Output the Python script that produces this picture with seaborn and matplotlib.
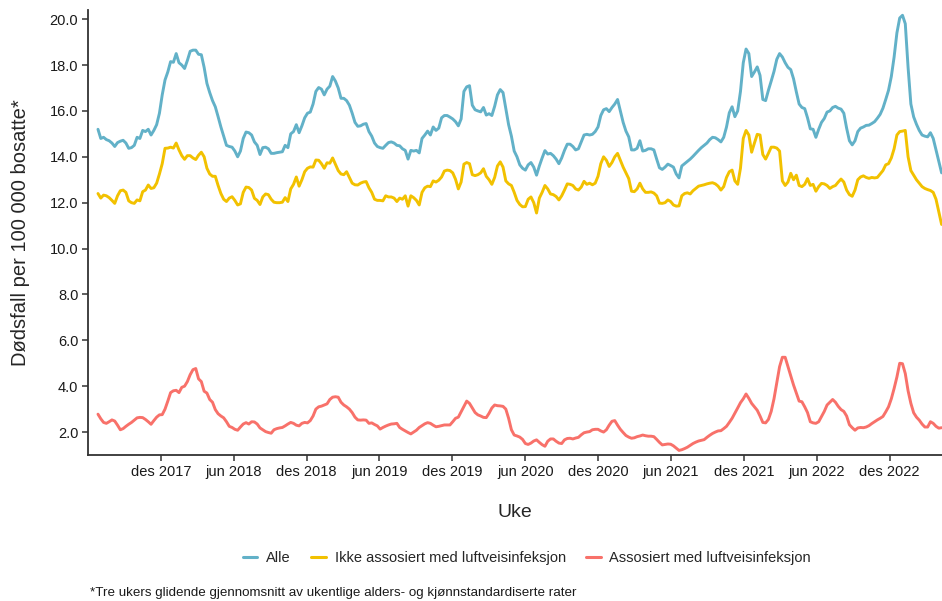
import pandas as pd
import seaborn as sns
import matplotlib.pyplot as plt
from matplotlib.ticker import FormatStrFormatter
from matplotlib.lines import Line2D

# ukentlige data, tre ukers glidende snitt, fra uke 26 2017
startdato = "2017-06-26"

alle = [
    15.2, 14.8, 14.85, 14.75, 14.7, 14.6, 14.45, 14.62, 14.68, 14.72,
    14.6, 14.37, 14.4, 14.5, 14.85, 14.8, 15.15, 15.1, 15.2, 14.95,
    15.15, 15.4, 15.9, 16.7, 17.35, 17.7, 18.15, 18.12, 18.5, 18.1,
    18.0, 17.85, 18.2, 18.6, 18.65, 18.65, 18.47, 18.45, 17.9, 17.2,
    16.8, 16.45, 16.18, 15.75, 15.3, 14.9, 14.5, 14.45, 14.42, 14.25,
    14.0, 14.25, 14.8, 15.08, 15.05, 14.95, 14.65, 14.5, 14.1, 14.4,
    14.42, 14.35, 14.15, 14.15, 14.18, 14.2, 14.22, 14.5, 14.4, 15.0,
    15.1, 15.4, 15.05, 15.35, 15.7, 15.9, 15.95, 16.3, 16.85, 17.02,
    16.95, 16.7, 16.95, 17.08, 17.5, 17.3, 17.0, 16.55, 16.55, 16.45,
    16.25, 15.9, 15.5, 15.33, 15.35, 15.42, 15.45, 15.1, 14.9, 14.6,
    14.45, 14.4, 14.37, 14.5, 14.62, 14.65, 14.6, 14.5, 14.48, 14.35,
    14.28, 13.9, 14.28, 14.25, 14.28, 14.17, 14.8, 14.95, 15.12, 14.95,
    15.3, 15.15, 15.25, 15.7, 15.8, 15.8, 15.73, 15.65, 15.53, 15.35,
    15.65, 16.85, 17.05, 17.1, 16.25, 16.05, 16.0, 15.96, 16.15, 15.82,
    15.88, 15.8, 16.2, 16.7, 16.93, 16.8, 16.1, 15.4, 14.9, 14.25,
    14.0, 13.65, 13.5, 13.42, 13.65, 13.75, 13.55, 13.2, 13.6, 13.95,
    14.27, 14.12, 14.15, 14.05, 13.9, 13.7, 13.95, 14.28, 14.55, 14.55,
    14.45, 14.3, 14.35, 14.65, 14.95, 14.98, 14.95, 14.98, 15.1, 15.3,
    15.8, 16.05, 16.1, 15.97, 16.15, 16.3, 16.5, 16.0, 15.5, 15.12,
    14.87, 14.3, 14.3, 14.37, 14.7, 14.25, 14.28, 14.35, 14.35, 14.3,
    13.9, 13.52, 13.45, 13.55, 13.68, 13.62, 13.55, 13.25, 13.08, 13.6,
    13.7, 13.8, 13.9, 14.02, 14.15, 14.28, 14.4, 14.5, 14.6, 14.75,
    14.85, 14.83, 14.75, 14.65, 14.85, 15.3, 15.92, 16.18, 15.75, 16.0,
    16.85, 18.1, 18.7, 18.5, 17.5, 17.7, 17.92, 17.55, 16.5, 16.45,
    16.9, 17.3, 17.72, 18.25, 18.5, 18.35, 18.1, 17.9, 17.8, 17.4,
    16.83, 16.3, 16.15, 16.1, 15.7, 15.22, 15.2, 14.85, 15.2, 15.5,
    15.67, 15.95, 16.0, 16.15, 16.2, 16.12, 16.08, 15.9, 15.25, 14.7,
    14.52, 14.7, 15.1, 15.25, 15.3, 15.37, 15.38, 15.45, 15.53, 15.68,
    15.85, 16.12, 16.5, 16.9, 17.5, 18.35, 19.4, 20.05, 20.17, 19.8,
    17.9, 16.3, 15.74, 15.42, 15.15, 14.95, 14.9, 14.87, 15.05, 14.8,
    14.3, 13.8, 13.3,
]

ikke_luftvei = [
    12.4, 12.2, 12.33, 12.3, 12.22, 12.1, 11.97, 12.3, 12.52, 12.55,
    12.45, 12.08, 12.0, 11.97, 12.12, 12.08, 12.48, 12.55, 12.77, 12.62,
    12.65, 12.85, 13.25, 13.7, 14.37, 14.38, 14.42, 14.38, 14.6, 14.3,
    14.05, 13.89, 14.05, 14.05, 13.95, 13.88, 14.07, 14.2, 14.0, 13.5,
    13.25, 13.15, 13.15, 12.75, 12.4, 12.15, 12.05, 12.2, 12.26, 12.1,
    11.9, 11.95, 12.45, 12.68, 12.66, 12.55, 12.19, 12.1, 11.92, 12.25,
    12.38, 12.35, 12.15, 12.02, 12.0, 12.0, 12.02, 12.22, 12.05, 12.6,
    12.8, 13.12, 12.72, 13.0, 13.35, 13.5, 13.56, 13.55, 13.86, 13.85,
    13.7, 13.5, 13.74, 13.72, 13.95, 13.68, 13.4, 13.25, 13.22, 13.35,
    13.1, 12.85, 12.78, 12.77, 12.85, 12.9, 12.92, 12.65, 12.45, 12.15,
    12.1, 12.1, 12.08, 12.3, 12.25, 12.25, 12.2, 12.05, 12.2, 12.15,
    12.3, 11.85, 12.3, 12.22, 12.1, 11.9, 12.45, 12.65, 12.72, 12.7,
    12.95, 12.9, 12.98, 13.12, 13.38, 13.42, 13.4, 13.3, 13.02, 12.6,
    12.9, 13.68, 13.75, 13.7, 13.22, 13.18, 13.22, 13.3, 13.48, 13.15,
    13.0, 12.8, 13.1, 13.6, 13.78, 13.55, 12.95, 12.82, 12.75, 12.45,
    12.1, 11.92, 11.82, 11.83, 12.15, 12.25, 12.0, 11.55, 12.2, 12.45,
    12.75, 12.6, 12.38, 12.35, 12.27, 12.12, 12.3, 12.55, 12.82, 12.8,
    12.75, 12.6, 12.55, 12.68, 12.93, 12.8, 12.85, 12.78, 12.85, 13.15,
    13.7, 14.0, 13.85, 13.58, 13.75, 14.0, 14.15, 13.85, 13.55, 13.3,
    13.05, 12.5, 12.48, 12.6, 12.85, 12.6, 12.45, 12.45, 12.47, 12.42,
    12.3, 11.98, 11.97, 12.0, 12.12, 12.05, 11.9, 11.85, 11.86, 12.3,
    12.4, 12.43, 12.38, 12.52, 12.62, 12.72, 12.75, 12.78, 12.82, 12.85,
    12.87, 12.82, 12.72, 12.55, 12.7, 13.1, 13.35, 13.42, 12.95, 12.8,
    13.5, 14.8, 15.15, 14.95, 14.2, 14.6, 14.98, 14.95, 14.1, 13.9,
    14.15, 14.42, 14.42, 14.38, 14.25, 12.95, 12.75, 12.9, 13.28, 13.0,
    13.2, 12.75, 12.7, 12.8, 13.05, 12.75, 12.8, 12.5, 12.7, 12.84,
    12.82, 12.75, 12.62, 12.7, 12.75, 12.9, 13.03, 12.9, 12.55, 12.35,
    12.28, 12.55, 13.0, 13.12, 13.17, 13.1, 13.06, 13.1, 13.08, 13.1,
    13.25, 13.4, 13.65, 13.7, 13.95, 14.35, 14.95, 15.1, 15.12, 15.15,
    14.0, 13.4, 13.2, 13.0, 12.85, 12.7, 12.62, 12.57, 12.53, 12.45,
    12.15, 11.6, 11.05,
]

luftvei = [
    2.78, 2.58, 2.42, 2.38, 2.45, 2.53, 2.48, 2.3, 2.1, 2.15,
    2.25, 2.34, 2.42, 2.52, 2.62, 2.64, 2.63, 2.55, 2.45, 2.34,
    2.5, 2.65, 2.75, 2.76, 3.0, 3.35, 3.72, 3.8, 3.82, 3.72,
    3.95, 4.0, 4.2, 4.5, 4.72, 4.77, 4.32, 4.2, 3.78, 3.7,
    3.42, 3.3, 2.98, 2.8, 2.7, 2.62, 2.45, 2.25, 2.2, 2.12,
    2.08, 2.22, 2.35, 2.41, 2.35, 2.45, 2.44, 2.35, 2.18, 2.1,
    2.02, 1.98, 1.95, 2.1, 2.15, 2.18, 2.2, 2.27, 2.35, 2.42,
    2.38, 2.3, 2.27, 2.38, 2.42, 2.4, 2.5, 2.7, 3.0, 3.1,
    3.13, 3.18, 3.23, 3.42, 3.52, 3.54, 3.52, 3.3, 3.18, 3.1,
    3.0, 2.85, 2.65, 2.53, 2.52, 2.53, 2.52, 2.38, 2.4, 2.33,
    2.27, 2.13, 2.2, 2.26, 2.31, 2.35, 2.36, 2.38, 2.2, 2.12,
    2.05, 1.98, 1.92, 2.0, 2.08, 2.2, 2.28, 2.36, 2.41, 2.38,
    2.3, 2.23, 2.25, 2.28, 2.31, 2.31, 2.31, 2.45, 2.6, 2.65,
    2.88, 3.1, 3.35, 3.25, 3.05, 2.85, 2.75, 2.7, 2.64, 2.63,
    2.82, 3.05, 3.18, 3.15, 3.14, 3.12, 3.0, 2.6, 2.1, 1.87,
    1.83, 1.78, 1.68, 1.5, 1.46, 1.52, 1.61, 1.66, 1.55, 1.45,
    1.38, 1.6, 1.7, 1.7, 1.6, 1.52, 1.5, 1.66, 1.72, 1.73,
    1.7, 1.74, 1.77, 1.88, 1.97, 2.0, 2.02, 2.1, 2.12, 2.12,
    2.05, 2.0, 2.1, 2.3, 2.47, 2.5, 2.3, 2.12, 1.98, 1.85,
    1.78, 1.73, 1.75, 1.8, 1.83, 1.87, 1.84, 1.82, 1.82, 1.8,
    1.68, 1.55, 1.44, 1.46, 1.48, 1.47, 1.4, 1.3, 1.2, 1.23,
    1.28, 1.34, 1.42, 1.5, 1.56, 1.61, 1.64, 1.67, 1.77, 1.86,
    1.94, 2.0, 2.05, 2.06, 2.15, 2.25, 2.42, 2.6, 2.82, 3.05,
    3.28, 3.45, 3.66, 3.47, 3.25, 3.1, 2.95, 2.7, 2.42, 2.4,
    2.55, 2.9, 3.45, 4.15, 4.85, 5.26, 5.26, 4.85, 4.45, 4.05,
    3.7, 3.35, 3.32, 3.1, 2.85, 2.45, 2.4, 2.38, 2.45, 2.68,
    2.9, 3.18, 3.3, 3.42, 3.3, 3.12, 2.98, 2.9, 2.7, 2.32,
    2.19, 2.08, 2.18, 2.2, 2.19, 2.22, 2.28, 2.37, 2.45, 2.53,
    2.6, 2.68, 2.88, 3.1, 3.45, 3.9, 4.4, 5.0, 4.98, 4.55,
    3.8, 3.25, 2.84, 2.65, 2.52, 2.35, 2.22, 2.22, 2.45, 2.38,
    2.25, 2.17, 2.19,
]

serier = ["Alle", "Ikke assosiert med luftveisinfeksjon", "Assosiert med luftveisinfeksjon"]
farger = ["#62B1C8", "#F2C100", "#F8716A"]

tick_datoer = ["2017-12-01", "2018-06-01", "2018-12-01", "2019-06-01", "2019-12-01",
               "2020-06-01", "2020-12-01", "2021-06-01", "2021-12-01", "2022-06-01",
               "2022-12-01"]
tick_tekst = ["des 2017", "jun 2018", "des 2018", "jun 2019", "des 2019",
              "jun 2020", "des 2020", "jun 2021", "des 2021", "jun 2022",
              "des 2022"]

uker = pd.date_range(startdato, periods=len(alle), freq="7D")
df = pd.concat([
    pd.DataFrame({"Uke": uker, "rate": verdier, "gruppe": navn})
    for navn, verdier in zip(serier, [alle, ikke_luftvei, luftvei])
])

sns.set_theme(style="ticks")
plt.rcParams['font.family'] = ['Liberation Sans', 'DejaVu Sans']

fig = plt.figure(figsize=(9.42, 6.01), dpi=100)
ax = fig.add_axes([88 / 942, 146 / 601, 854 / 942, 445 / 601])

sns.lineplot(data=df, x="Uke", y="rate", hue="gruppe", hue_order=serier,
             palette=farger, linewidth=2.1, legend=False, ax=ax)

ax.set_xlim(pd.Timestamp("2017-06-01"), pd.Timestamp("2023-04-11"))
ax.set_ylim(1.0, 20.4)
ax.set_yticks([2, 4, 6, 8, 10, 12, 14, 16, 18, 20])
ax.yaxis.set_major_formatter(FormatStrFormatter("%.1f"))
ax.set_xticks(pd.to_datetime(tick_datoer))
ax.set_xticklabels(tick_tekst)
ax.tick_params(axis="both", labelsize=10.5, length=4, width=1.1, color="#333333",
               labelcolor="#1a1a1a", pad=3)

for s in ["top", "right"]:
    ax.spines[s].set_visible(False)
for s in ["left", "bottom"]:
    ax.spines[s].set_color("#333333")
    ax.spines[s].set_linewidth(1.3)

ax.set_xlabel("Uke", fontsize=14, labelpad=18)
ax.set_ylabel("Dødsfall per 100 000 bosatte*", fontsize=14.5, labelpad=14)

handles = [Line2D([0], [0], color=c, lw=2.2) for c in farger]
fig.legend(handles, serier, loc="center", bbox_to_anchor=(527 / 942, 1 - 558 / 601),
           ncol=3, frameon=False, fontsize=10.5, handlelength=1.0, handletextpad=0.6,
           columnspacing=1.4)

fig.text(90 / 942, 1 - 593 / 601, "*Tre ukers glidende gjennomsnitt av ukentlige alders- og kjønnstandardiserte rater",
         fontsize=9.6, ha="left", va="center", color="#1a1a1a")

fig.savefig("out.png", dpi=100)
